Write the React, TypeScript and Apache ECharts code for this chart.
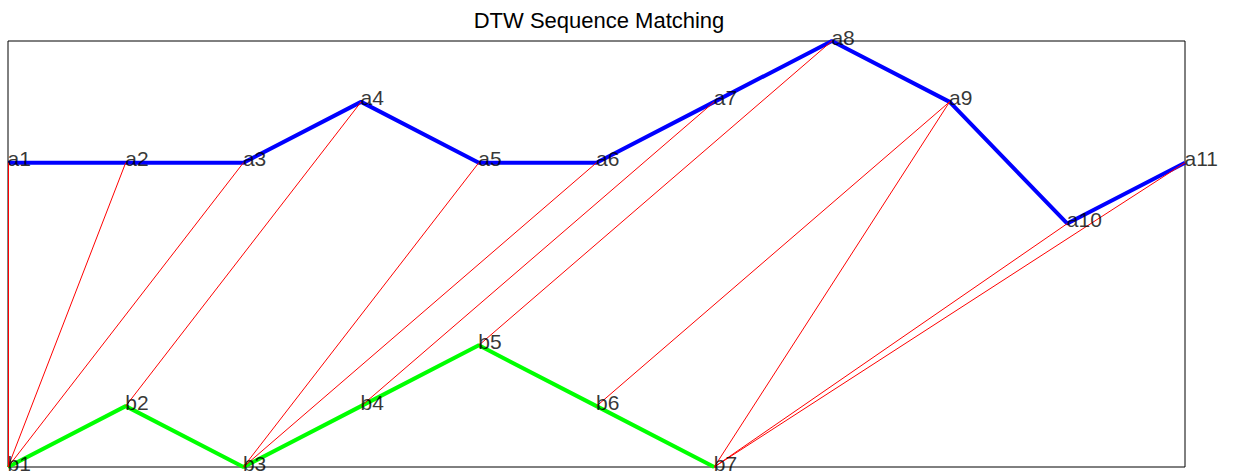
import React, { useEffect, useRef } from "react";
import * as echarts from "echarts";

const aLabels = ["a1", "a2", "a3", "a4", "a5", "a6", "a7", "a8", "a9", "a10", "a11"];
const aValues = [2, 2, 2, 3, 2, 2, 3, 4, 3, 1, 2];
const bLabels = ["b1", "b2", "b3", "b4", "b5", "b6", "b7"];
const bValues = [-3, -2, -3, -2, -1, -2, -3];
// DTW warping path: [index in a, index in b]
const matchPairs = [
  [0, 0], [1, 0], [2, 0], [3, 1], [4, 2], [5, 2],
  [6, 3], [7, 4], [8, 5], [8, 6], [9, 6], [10, 6],
];
const titleText = "DTW Sequence Matching";

const FONT = "'Liberation Sans', Arial, Helvetica, sans-serif";

export default function App() {
  const ref = useRef<HTMLDivElement>(null);
  useEffect(() => {
    if (!ref.current) return;
    const chart = echarts.init(ref.current, null, { renderer: "svg" });
    const aData = aValues.map((v, i) => [i, v]);
    const bData = bValues.map((v, i) => [i, v]);
    const labelCfg = {
      show: true,
      position: [0, 0],
      align: "left",
      verticalAlign: "bottom",
      offset: [0, 7],
      fontSize: 21,
      fontFamily: FONT,
      color: "#000",
    };
    chart.setOption({
      animation: false,
      backgroundColor: "#fff",
      title: {
        text: titleText,
        left: 594,
        top: 4,
        textAlign: "center",
        textStyle: { fontSize: 22, fontWeight: "normal", fontFamily: FONT, color: "#000" },
      },
      grid: {
        left: 8,
        right: 49,
        top: 41,
        bottom: 6,
        show: true,
        borderColor: "#000",
        borderWidth: 1,
        backgroundColor: "transparent",
      },
      xAxis: { type: "value", min: 0, max: 10, show: false },
      yAxis: { type: "value", min: -3, max: 4, show: false },
      series: [
        {
          type: "line",
          data: aData,
          clip: false,
          symbol: "none",
          lineStyle: { color: "#0000ff", width: 4 },
          z: 2,
        },
        {
          type: "line",
          data: bData,
          clip: false,
          symbol: "none",
          lineStyle: { color: "#00ff00", width: 4 },
          z: 2,
        },
        {
          type: "lines",
          coordinateSystem: "cartesian2d",
          clip: false,
          lineStyle: { color: "#ff0000", width: 1, opacity: 1 },
          data: matchPairs.map(([i, j]) => ({
            coords: [
              [i, aValues[i]],
              [j, bValues[j]],
            ],
          })),
          z: 3,
        },
        {
          type: "scatter",
          data: aData.map((d, i) => ({ value: d, name: aLabels[i] })),
          symbolSize: 1,
          clip: false,
          itemStyle: { color: "rgba(0,0,0,0)" },
          label: { ...labelCfg, formatter: (p: any) => p.name },
          z: 5,
        },
        {
          type: "scatter",
          data: bData.map((d, i) => ({ value: d, name: bLabels[i] })),
          symbolSize: 1,
          clip: false,
          itemStyle: { color: "rgba(0,0,0,0)" },
          label: { ...labelCfg, formatter: (p: any) => p.name },
          z: 5,
        },
      ],
    });
    return () => chart.dispose();
  }, []);
  return (
    <div
      ref={ref}
      style={{ position: "absolute", left: 0, top: 0, width: 1234, height: 473 }}
    />
  );
}
